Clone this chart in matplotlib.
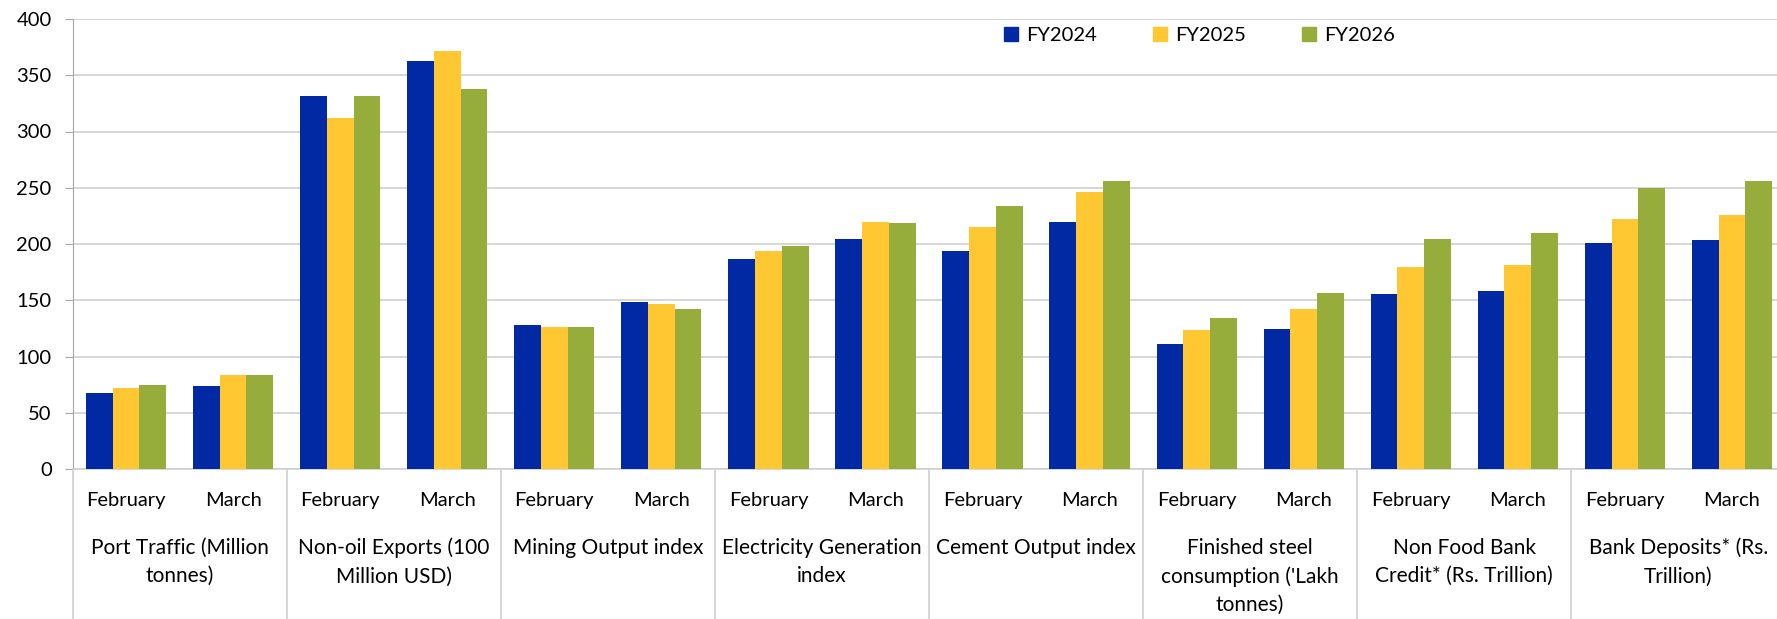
import numpy as np
import matplotlib.pyplot as plt
from matplotlib.patches import Patch

plt.rcParams['font.family'] = ['Lato', 'DejaVu Sans']

groups = ["Port Traffic (Million\ntonnes)", "Non-oil Exports (100\nMillion USD)",
          "Mining Output index", "Electricity Generation\nindex", "Cement Output index",
          "Finished steel\nconsumption ('Lakh\ntonnes)", "Non Food Bank\nCredit* (Rs. Trillion)",
          "Bank Deposits* (Rs.\nTrillion)"]
months = ["February", "March"]
series = ["FY2024", "FY2025", "FY2026"]

fy2024 = [67.2, 73.4, 331.7, 362.7, 128.1, 148.5, 187.0, 204.1,
          194.1, 219.2, 111.2, 124.3, 155.9, 158.6, 200.6, 203.6]
fy2025 = [71.6, 83.4, 311.8, 371.3, 126.6, 147.0, 193.8, 219.5,
          215.1, 246.2, 123.4, 142.0, 179.3, 181.7, 222.5, 225.4]
fy2026 = [74.3, 84.0, 331.7, 337.6, 126.6, 142.6, 198.2, 218.3,
          234.0, 255.9, 134.3, 156.8, 204.7, 209.5, 249.7, 255.9]

colors = ["#0029A3", "#FFC832", "#96AD3B"]

W, H = 1777, 619
fig = plt.figure(figsize=(W / 100, H / 100), dpi=100)
ax = fig.add_axes([72.5 / W, (H - 469) / H, 1713 / W, 450 / H])

x = np.arange(len(fy2024))
bw = 0.25
for k, vals in enumerate([fy2024, fy2025, fy2026]):
    ax.bar(x + (k - 1) * bw, vals, bw, color=colors[k], zorder=3)

ax.set_xlim(-0.5, len(x) - 0.5)
ax.set_ylim(0, 400)
ax.set_yticks(np.arange(0, 401, 50))
ax.yaxis.grid(True, color="#D0D0D0", linewidth=1.2, zorder=0)
for s in ["top", "right"]:
    ax.spines[s].set_visible(False)
ax.spines["left"].set_color("#A6A6A6")
ax.spines["bottom"].set_color("#D0D0D0")
ax.spines["bottom"].set_linewidth(1.2)
ax.tick_params(axis="y", length=6, color="#A6A6A6", pad=9, labelsize=14.5)
ax.set_xticks([])

tr = ax.get_xaxis_transform()
for i in x:
    ax.text(i, -0.069, months[i % 2], transform=tr, ha="center", va="center", fontsize=14.5)
for g, name in enumerate(groups):
    ax.text(2 * g + 0.5, -0.153, name, transform=tr, ha="center", va="top",
            fontsize=15, linespacing=1.5)
for b in np.arange(-0.5, len(x), 2):
    ax.plot([b, b], [0, -0.34], transform=tr, color="#D0D0D0", linewidth=1.2, clip_on=False)

handles = [Patch(color=c) for c in colors]
fig.legend(handles, series, loc="center", bbox_to_anchor=(0.675, 0.943), ncol=3,
           frameon=False, fontsize=14.5, handlelength=0.7, handleheight=0.7,
           handletextpad=0.4, columnspacing=2.8)

fig.savefig("out.png", dpi=100)
